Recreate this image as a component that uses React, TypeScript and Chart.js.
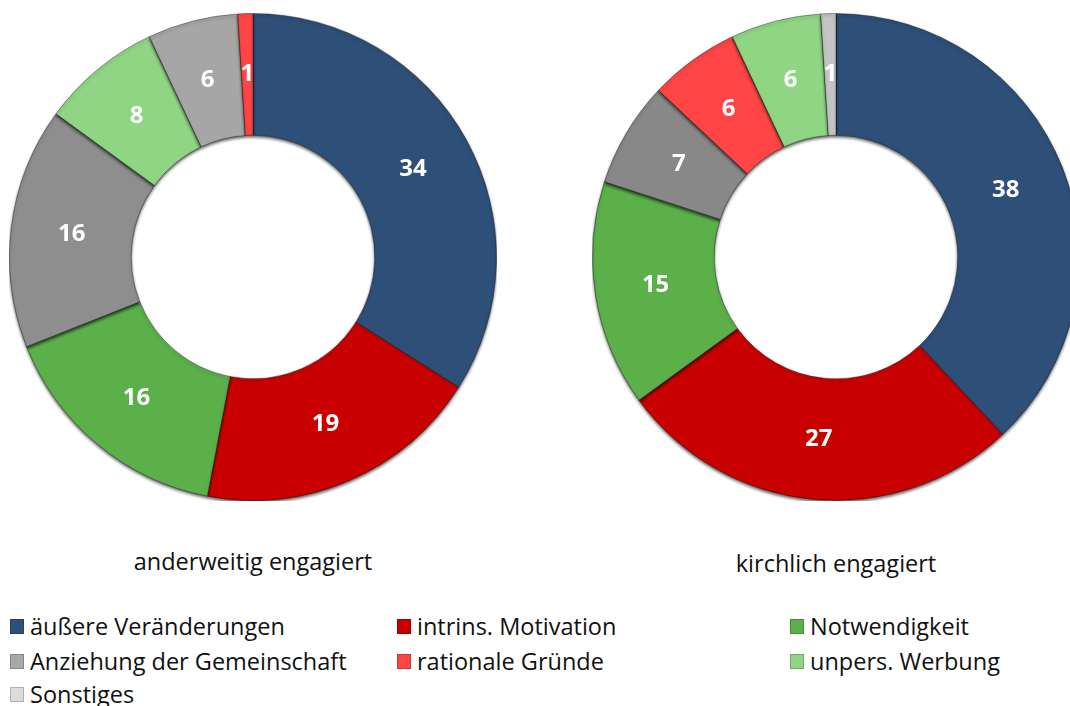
import React, { useEffect, useRef } from "react";
import { Chart, registerables } from "chart.js";

Chart.register(...registerables);

const categories = [
  "äußere Veränderungen",
  "intrins. Motivation",
  "Notwendigkeit",
  "Anziehung der Gemeinschaft",
  "rationale Gründe",
  "unpers. Werbung",
  "Sonstiges",
];
const categoryColors = ["#2e4f78", "#c80000", "#5bb04a", "#a8a8a8", "#ff4545", "#8fd584", "#dcdcdc"];

const leftTitle = "anderweitig engagiert";
const leftLabels = ["äußere Veränderungen", "intrins. Motivation", "Notwendigkeit", "Anziehung der Gemeinschaft", "unpers. Werbung", "Sonstiges", "rationale Gründe"];
const leftValues = [34, 19, 16, 16, 8, 6, 1];
const leftColors = ["#2e4f78", "#c80000", "#5bb04a", "#8e8e8e", "#8fd584", "#a6a6a6", "#ff4545"];

const rightTitle = "kirchlich engagiert";
const rightLabels = ["äußere Veränderungen", "intrins. Motivation", "Notwendigkeit", "Anziehung der Gemeinschaft", "rationale Gründe", "unpers. Werbung", "Sonstiges"];
const rightValues = [38, 27, 15, 7, 6, 6, 1];
const rightColors = ["#2e4f78", "#c80000", "#5bb04a", "#888888", "#ff4545", "#8fd584", "#c4c4c4"];

const FONT = "'Open Sans', 'DejaVu Sans', sans-serif";

const labelPlugin = {
  id: "arcLabels",
  afterDatasetsDraw(chart: any) {
    const ctx = chart.ctx;
    const meta = chart.getDatasetMeta(0);
    const data = chart.data.datasets[0].data;
    ctx.save();
    ctx.fillStyle = "#ffffff";
    ctx.font = `bold 24px ${FONT}`;
    ctx.textAlign = "center";
    ctx.textBaseline = "middle";
    meta.data.forEach((arc: any, i: number) => {
      const p = arc.getProps(["x", "y", "startAngle", "endAngle", "innerRadius", "outerRadius"], true);
      const a = (p.startAngle + p.endAngle) / 2;
      const r = (p.innerRadius + p.outerRadius) / 2;
      ctx.fillText(String(data[i]), p.x + Math.cos(a) * r, p.y + Math.sin(a) * r);
    });
    ctx.restore();
  },
};

const shadowPlugin = {
  id: "arcShadow",
  beforeDatasetsDraw(chart: any) {
    const ctx = chart.ctx;
    ctx.save();
    ctx.shadowColor = "rgba(0,0,0,0.6)";
    ctx.shadowBlur = 3;
    ctx.shadowOffsetY = 2;
  },
  afterDatasetsDraw(chart: any) {
    chart.ctx.restore();
  },
};

const SIZE = 488;

function Donut(props: { labels: string[]; values: number[]; colors: string[] }) {
  const ref = useRef<HTMLCanvasElement>(null);
  useEffect(() => {
    if (!ref.current) return;
    const chart = new Chart(ref.current, {
      type: "doughnut",
      data: {
        labels: props.labels,
        datasets: [
          {
            data: props.values,
            backgroundColor: props.colors,
            borderColor: "rgba(0,0,0,0.35)",
            borderWidth: 1,
          },
        ],
      },
      options: {
        responsive: false,
        animation: false,
        cutout: "50%",
        layout: { padding: 0 },
        plugins: { legend: { display: false }, tooltip: { enabled: false } },
      },
      plugins: [shadowPlugin, labelPlugin],
    });
    return () => chart.destroy();
  }, []);
  return <canvas ref={ref} width={SIZE} height={SIZE} style={{ width: SIZE, height: SIZE }} />;
}

const legendRows = [
  [0, 1, 2],
  [3, 4, 5],
  [6],
];
const legendCols = [10, 397, 790];
const legendRowY = [626, 661, 694];

export default function App() {
  return (
    <div
      style={{
        position: "fixed",
        left: 0,
        top: 0,
        width: 1070,
        height: 706,
        overflow: "hidden",
        background: "#ffffff",
        fontFamily: FONT,
      }}
    >
      <div style={{ position: "absolute", left: 253 - SIZE / 2, top: 257 - SIZE / 2 }}>
        <Donut labels={leftLabels} values={leftValues} colors={leftColors} />
      </div>
      <div style={{ position: "absolute", left: 836 - SIZE / 2, top: 257 - SIZE / 2 }}>
        <Donut labels={rightLabels} values={rightValues} colors={rightColors} />
      </div>
      <div style={{ position: "absolute", left: 53, width: 400, top: 561 - 17, textAlign: "center", fontSize: 23.5, lineHeight: "34px", color: "#111" }}>
        {leftTitle}
      </div>
      <div style={{ position: "absolute", left: 636, width: 400, top: 563 - 17, textAlign: "center", fontSize: 23.5, lineHeight: "34px", color: "#111" }}>
        {rightTitle}
      </div>
      {legendRows.map((row, ri) =>
        row.map((ci, k) => (
          <div
            key={ci}
            style={{
              position: "absolute",
              left: legendCols[k],
              top: legendRowY[ri] - 17,
              height: 34,
              display: "flex",
              alignItems: "center",
              fontSize: 23.5,
              color: "#111",
              whiteSpace: "nowrap",
            }}
          >
            <span
              style={{
                display: "inline-block",
                width: 14,
                height: 15,
                marginRight: 6,
                background: categoryColors[ci],
                boxShadow: "inset 0 0 0 1px rgba(0,0,0,0.2)",
              }}
            />
            {categories[ci]}
          </div>
        ))
      )}
    </div>
  );
}
